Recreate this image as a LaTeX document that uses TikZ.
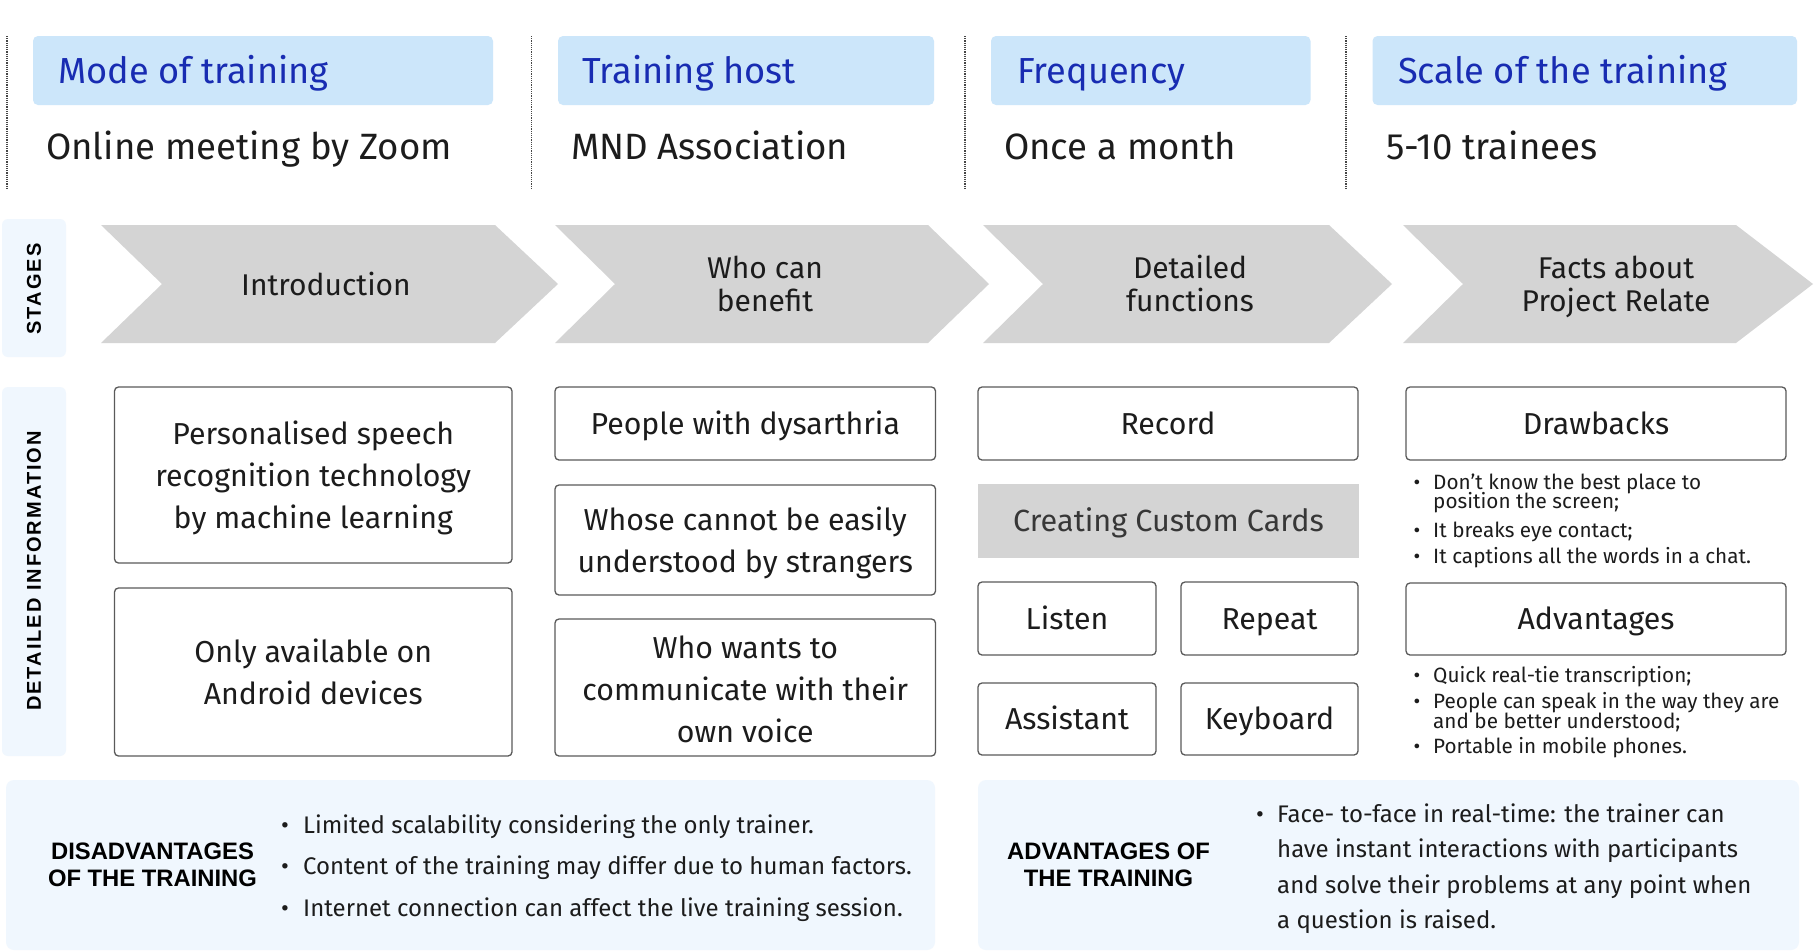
\documentclass[tikz,border=0pt]{standalone}
\usepackage{fontspec}
\setmainfont{Fira Sans}
\newfontfamily\labfont[LetterSpace=10]{Liberation Sans}
\newfontfamily\boldlab{Liberation Sans}
\definecolor{hdrblue}{RGB}{204,230,250}
\definecolor{hdrtext}{RGB}{24,44,178}
\definecolor{sideblue}{RGB}{240,247,254}
\definecolor{chevgray}{RGB}{212,212,212}
\definecolor{boxgray}{RGB}{90,90,90}
\definecolor{txt}{RGB}{28,28,28}
\definecolor{cardtxt}{RGB}{55,55,55}
\definecolor{dotgray}{RGB}{70,70,70}
\begin{document}
\begin{tikzpicture}[x=1pt,y=-1pt,
  hdr/.style={fill=hdrblue, rounded corners=5pt, inner sep=0pt, minimum height=69pt},
  hdrtxt/.style={anchor=base west, inner sep=0pt, text=hdrtext, font=\fontsize{36.2}{40}\selectfont},
  valtxt/.style={anchor=base west, inner sep=0pt, text=txt, font=\fontsize{36.6}{42}\selectfont},
  sidebox/.style={fill=sideblue, rounded corners=6pt, inner sep=0pt, minimum width=64pt},
  sidelab/.style={rotate=90, inner sep=0pt, text=black, font=\labfont\bfseries\fontsize{20}{24}\selectfont},
  chev/.style={fill=chevgray},
  chevtxt/.style={align=center, inner sep=0pt, text=txt, font=\fontsize{30}{33}\selectfont},
  box/.style={draw=boxgray, line width=1.3pt, rounded corners=4pt, fill=white, inner sep=0pt,
    align=center, text=txt, font=\fontsize{30.3}{42}\selectfont},
  one/.style={text height=21pt, text depth=0pt},
  card/.style={fill=chevgray, inner sep=0pt, text=cardtxt, text height=21pt, text depth=0pt,
    font=\fontsize{30.6}{34}\selectfont},
  small/.style={anchor=base west, inner sep=0pt, text=txt, font=\fontsize{20.7}{24}\selectfont},
  bul/.style={anchor=base, inner sep=0pt, text=txt},
  btm/.style={fill=sideblue, rounded corners=8pt, inner sep=0pt},
  btmlab/.style={align=center, inner sep=0pt, text=black, font=\boldlab\bfseries\fontsize{23.8}{27}\selectfont},
  btmtxt/.style={anchor=base west, inner sep=0pt, text=txt, font=\fontsize{24}{28}\selectfont},
  dotline/.style={draw=dotgray, line width=1.2pt, densely dotted}
]
\useasboundingbox (0,0) rectangle (1815,951);
\fill[white] (0,0) rectangle (1815,951);

% separators
\draw[dotline] (7,36) -- (7,188);
\draw[dotline] (531.5,36) -- (531.5,188);
\draw[dotline] (965,36) -- (965,188);
\draw[dotline] (1346,36) -- (1346,188);

% header boxes
\node[hdr, minimum width=460pt] (h1) at (263,70.5) {};
\node[hdr, minimum width=376pt] (h2) at (746,70.5) {};
\node[hdr, minimum width=319.5pt] (h3) at (1150.75,70.5) {};
\node[hdr, minimum width=424.5pt] (h4) at (1584.75,70.5) {};
\node[hdrtxt] (h1t) at (58,83) {Mode of training};
\node[hdrtxt] (h2t) at (582,83) {Training host};
\node[hdrtxt] (h3t) at (1017,83) {Frequency};
\node[hdrtxt] (h4t) at (1398,83) {Scale of the training};
\node[valtxt] (v1) at (46,159) {Online meeting by Zoom};
\node[valtxt] (v2) at (571,159) {MND Association};
\node[valtxt] (v3) at (1004,159) {Once a month};
\node[valtxt] (v4) at (1386,159) {5-10 trainees};

% side labels
\node[sidebox, minimum height=138pt] (s1) at (34,288) {};
\node[sidelab] (s1t) at (34,289) {STAGES};
\node[sidebox, minimum height=369pt] (s2) at (34,571.5) {};
\node[sidelab] (s2t) at (34,571) {DETAILED INFORMATION};

% chevrons
\fill[chev] (101,225) -- (495,225) -- (558,284) -- (495,343) -- (101,343) -- (162,284) -- cycle;
\fill[chev] (555,225) -- (928,225) -- (989,284) -- (928,343) -- (555,343) -- (615,284) -- cycle;
\fill[chev] (983,225) -- (1329,225) -- (1392,284) -- (1329,343) -- (983,343) -- (1043,284) -- cycle;
\fill[chev] (1403,225) -- (1736,225) -- (1813,284) -- (1736,343) -- (1403,343) -- (1463,284) -- cycle;
\node[chevtxt] (c1) at (326,284) {Introduction};
\node[chevtxt] (c2) at (765,284) {Who can\\benefit};
\node[chevtxt] (c3) at (1190,283) {Detailed\\functions};
\node[chevtxt] (c4) at (1616,286.5) {Facts about\\Project Relate};

% detail column 1
\node[box, minimum width=397.5pt, minimum height=176pt] (p1) at (313.25,475) {};
\node[align=center, inner sep=0pt, text=txt, font=\fontsize{30.3}{42}\selectfont] (p1t) at (313.25,478) {Personalised speech\\recognition technology\\by machine learning};
\node[box, minimum width=397.5pt, minimum height=168pt] (p2) at (313.25,672) {Only available on\\Android devices};

% detail column 2
\node[box, one, minimum width=380.5pt, minimum height=73pt] (w1) at (745.25,423.5) {People with dysarthria};
\node[box, minimum width=380.5pt, minimum height=110pt] (w2) at (745.25,540) {};
\node[align=center, inner sep=0pt, text=txt, font=\fontsize{30.3}{42}\selectfont] (w2t) at (745.25,543) {Whose cannot be easily\\understood by strangers};
\node[box, minimum width=380.5pt, minimum height=137pt] (w3) at (745.25,687.5) {};
\node[align=center, inner sep=0pt, text=txt, font=\fontsize{30.3}{42}\selectfont] (w3t) at (745.25,689) {Who wants to\\communicate with their\\own voice};

% detail column 3
\node[box, one, minimum width=380pt, minimum height=73pt] (r1) at (1168,423.5) {Record};
\node[card, minimum width=381pt, minimum height=74pt] (r2) at (1168.5,521) {Creating Custom Cards};
\node[box, one, minimum width=178pt, minimum height=73pt] (r3) at (1067,618.5) {Listen};
\node[box, one, minimum width=177pt, minimum height=73pt] (r4) at (1269.5,618.5) {Repeat};
\node[box, one, minimum width=178pt, minimum height=72pt] (r5) at (1067,719) {Assistant};
\node[box, one, minimum width=177pt, minimum height=72pt] (r6) at (1269.5,719) {Keyboard};

% detail column 4
\node[box, one, minimum width=380pt, minimum height=73pt] (f1) at (1596,423.5) {Drawbacks};
\node[small] (d1) at (1433,489) {Don’t know the best place to};
\node[small] (d1b) at (1433,508) {position the screen;};
\node[small] (d2) at (1433,537) {It breaks eye contact;};
\node[small] (d3) at (1433,563) {It captions all the words in a chat.};
\node[bul, font=\fontsize{20.7}{24}\selectfont] (db1) at (1417,489) {•};
\node[bul, font=\fontsize{20.7}{24}\selectfont] (db2) at (1417,537) {•};
\node[bul, font=\fontsize{20.7}{24}\selectfont] (db3) at (1417,563) {•};
\node[box, one, minimum width=380pt, minimum height=72pt] (f2) at (1596,619) {Advantages};
\node[small] (a1) at (1433,682) {Quick real-tie transcription;};
\node[small] (a2) at (1433,708) {People can speak in the way they are};
\node[small] (a2b) at (1433,728) {and be better understood;};
\node[small] (a3) at (1433,753) {Portable in mobile phones.};
\node[bul, font=\fontsize{20.7}{24}\selectfont] (ab1) at (1417,682) {•};
\node[bul, font=\fontsize{20.7}{24}\selectfont] (ab2) at (1417,708) {•};
\node[bul, font=\fontsize{20.7}{24}\selectfont] (ab3) at (1417,753) {•};

% bottom left
\node[btm, minimum width=929pt, minimum height=170pt] (bl) at (470.5,865) {};
\node[btmlab] (blt) at (152.5,865) {DISADVANTAGES\\OF THE TRAINING};
\node[btmtxt] (bl1) at (303,833) {Limited scalability considering the only trainer.};
\node[btmtxt] (bl2) at (303,874.5) {Content of the training may differ due to human factors.};
\node[btmtxt] (bl3) at (303,916) {Internet connection can affect the live training session.};
\node[bul, font=\fontsize{24}{28}\selectfont] (blb1) at (285,833) {•};
\node[bul, font=\fontsize{24}{28}\selectfont] (blb2) at (285,874.5) {•};
\node[bul, font=\fontsize{24}{28}\selectfont] (blb3) at (285,916) {•};

% bottom right
\node[btm, minimum width=821pt, minimum height=170pt] (br) at (1388.5,865) {};
\node[btmlab] (brt) at (1108.5,865) {ADVANTAGES OF\\THE TRAINING};
\node[btmtxt] (br1) at (1277,822) {Face- to-face in real-time: the trainer can};
\node[btmtxt] (br2) at (1277,857.5) {have instant interactions with participants};
\node[btmtxt] (br3) at (1277,893) {and solve their problems at any point when};
\node[btmtxt] (br4) at (1277,928) {a question is raised.};
\node[bul, font=\fontsize{24}{28}\selectfont] (brb1) at (1260,822) {•};
\end{tikzpicture}
\end{document}
